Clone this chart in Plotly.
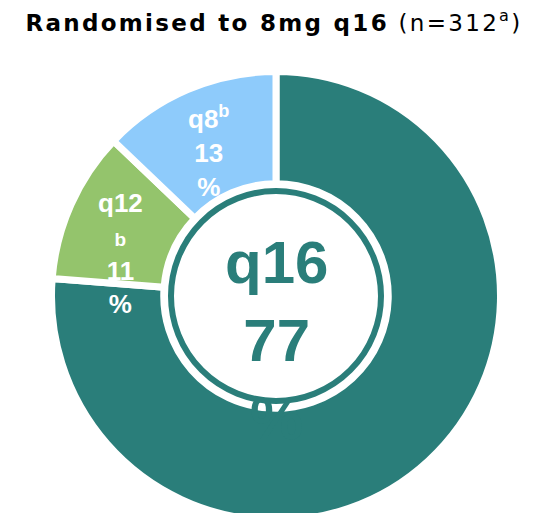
import numpy as np
import plotly.graph_objects as go

# data
groups = ["q16", "q12", "q8"]
shares = [77, 11, 13]
colors = ["#2a7e7a", "#94c46c", "#8ecbfb"]
label_text = {
    "q16": "q16<br>77<br>%",
    "q12": "q12<br><span style='font-size:19px'>b</span><br>11<br>%",
    "q8": "q8<sup>b</sup><br>13<br>%",
}
label_shift = {"q12": (-12, -22), "q8": (-6, 0)}

W, H = 535, 513
CX, CY, R = 268, 288, 224.5   # pie centre / radius in px (page has 8px body margin)
HOLE = 0.50
TEAL = colors[0]
FONT = "Liberation Sans"

fig = go.Figure()
fig.add_trace(go.Pie(
    labels=groups,
    values=shares,
    sort=False,
    direction="clockwise",
    rotation=0,
    hole=HOLE,
    marker=dict(colors=colors, line=dict(color="white", width=7)),
    textinfo="none",
    hoverinfo="label+percent",
    showlegend=False,
    domain=dict(x=[(CX - R) / W, (CX + R) / W],
                y=[max(0, (H - CY - R) / H), (H - CY + R) / H]),
))

# slice labels placed at mid-angle of each slice
tot = float(sum(shares))
start = 0.0
annots = []
for g, v in zip(groups, shares):
    span = 360.0 * v / tot
    mid = np.deg2rad(start + span / 2)
    start += span
    if g == "q16":
        continue
    rr = 157
    px = CX + rr * np.sin(mid)
    py = CY - rr * np.cos(mid)
    dx, dy = label_shift[g]
    annots.append(dict(
        x=px / W, y=1 - py / H, xref="paper", yref="paper",
        xanchor="center", yanchor="middle",
        text="<b>" + label_text[g] + "</b>", showarrow=False,
        font=dict(family=FONT, size=26, color="white"),
        xshift=dx, yshift=dy,
    ))

# centre label
annots.append(dict(
    x=CX / W, y=1 - CY / H, xref="paper", yref="paper",
    xanchor="center", yanchor="middle",
    text="<b>" + label_text["q16"] + "</b>", showarrow=False,
    font=dict(family=FONT, size=60, color=TEAL),
    yshift=-44,
))

ring_r = 105
fig.update_layout(
    width=W, height=H,
    margin=dict(l=0, r=0, t=0, b=0),
    paper_bgcolor="white",
    title=dict(
        text="<span style='letter-spacing:2.3px'><b>Randomised to 8mg q16</b> (n=312<sup>a</sup>)</span>",
        x=266 / W, xanchor="center", y=1 - 15 / H, yanchor="middle",
        font=dict(family="DejaVu Sans", size=23, color="black"),
    ),
    shapes=[dict(
        type="circle", xref="paper", yref="paper",
        x0=(CX - ring_r) / W, x1=(CX + ring_r) / W,
        y0=1 - (CY + ring_r) / H, y1=1 - (CY - ring_r) / H,
        line=dict(color=TEAL, width=6),
    )],
    annotations=annots,
)

fig.write_html("out.html")
